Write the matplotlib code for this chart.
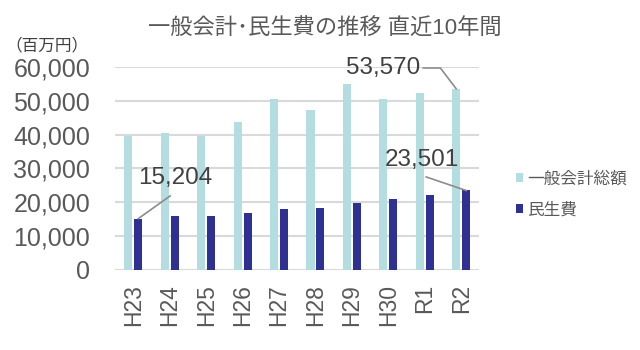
import numpy as np
import matplotlib.pyplot as plt
from matplotlib.ticker import FuncFormatter

plt.rcParams['font.family'] = ['Liberation Sans', 'Noto Sans CJK JP', 'DejaVu Sans']

years = ['H23', 'H24', 'H25', 'H26', 'H27', 'H28', 'H29', 'H30', 'R1', 'R2']
general = [39600, 40400, 39600, 43750, 50650, 47200, 55000, 50450, 52200, 53570]
welfare = [15204, 15870, 15870, 16750, 18030, 18330, 19900, 20900, 22080, 23501]

light = '#b4dde1'
dark = '#2e3192'
grey = '#595959'

fig = plt.figure(figsize=(6.4, 3.5), dpi=100)
ax = fig.add_axes([0.18, 0.2286, 0.569, 0.58])

x = np.arange(len(years))
w = 0.22
ax.bar(x - 0.137, general, w, color=light, label='一般会計総額', zorder=2)
ax.bar(x + 0.137, welfare, w, color=dark, label='民生費', zorder=2)

ax.set_xlim(-0.5, len(years) - 0.5)
ax.set_ylim(0, 60000)
ax.set_yticks(np.arange(0, 60001, 10000))
ax.yaxis.set_major_formatter(FuncFormatter(lambda v, p: f'{int(v):,}'))
ax.set_xticks(x)
ax.set_xticklabels(years, rotation=90)
ax.tick_params(axis='y', length=0, pad=18, labelsize=18, labelcolor=grey)
ax.tick_params(axis='x', length=0, pad=10, labelsize=16.5, labelcolor=grey)
ax.grid(axis='y', color='#d9d9d9', linewidth=1.5, zorder=0)
for s in ax.spines.values():
    s.set_visible(False)

# data labels with leader lines
lc = '#8c8c8c'
fs = 17.5
ax.text(1.15, 27200, f'{welfare[0]:,}', fontsize=fs, color='#404040', ha='center', va='center')
ax.plot([1.01, 0 + 0.137], [21900, welfare[0]], color=lc, lw=1.2, zorder=3)
ax.text(7.87, 59700, f'{general[-1]:,}', fontsize=fs, color='#404040', ha='right', va='center')
ax.plot([7.96, 8.43, 9 - 0.137], [59700, 59700, general[-1]], color=lc, lw=1.2, zorder=3)
ax.text(7.93, 32500, f'{welfare[-1]:,}', fontsize=fs, color='#404040', ha='center', va='center')
ax.plot([8.04, 9 + 0.137], [27500, welfare[-1]], color=lc, lw=1.2, zorder=3)

for ln in ax.lines:
    ln.set_clip_on(False)

leg = ax.legend(loc='center left', bbox_to_anchor=(0.783, 0.445), bbox_transform=fig.transFigure,
                frameon=False, fontsize=12, handlelength=0.42, handleheight=0.42,
                handletextpad=0.25, labelspacing=0.95)
for t in leg.get_texts():
    t.set_color(grey)

fig.text(0.508, 0.918, '一般会計･民生費の推移 直近10年間', fontsize=16, color=grey,
         ha='center', va='center')
fig.text(0.008, 0.87, '（百万円）', fontsize=12, color='#404040', ha='left', va='center')

fig.savefig('out.png', dpi=100)
